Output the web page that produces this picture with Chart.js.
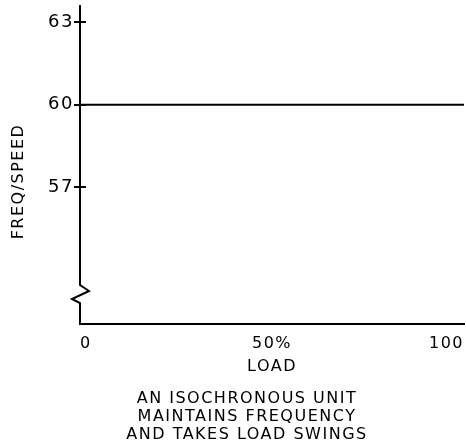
<!DOCTYPE html>
<html>
<head>
<meta charset="utf-8">
<script src="https://cdn.jsdelivr.net/npm/chart.js@4.4.1/dist/chart.umd.min.js"></script>
<style>
  html, body { margin: 0; padding: 0; background: #fff; }
  #wrap { width: 466px; height: 444px; }
</style>
</head>
<body>
<div id="wrap"><canvas id="isoChart"></canvas></div>
<script>
// data
const loadPct = [0, 100];
const freqSpeed = [60, 60];
const yTickValues = [57, 60, 63];
const xTickValues = [0, 50, 100];
const xTickLabels = ['0', '50%', '100'];
const yAxisTitle = 'FREQ/SPEED';
const xAxisTitle = 'LOAD';
const caption = ['AN ISOCHRONOUS UNIT', 'MAINTAINS FREQUENCY', 'AND TAKES LOAD SWINGS'];

const FONT = 'DejaVu Sans';
const INK = '#000';
const SPACING = '1.5px';

// wider lettering like the drafting font of the original
const lettering = {
    id: 'lettering',
    beforeUpdate(chart) { chart.ctx.letterSpacing = SPACING; },
    beforeDraw(chart) { chart.ctx.letterSpacing = SPACING; },
    afterLayout(chart) {
        // caption sits a bit left of the plot centre
        if (chart.titleBlock) chart.titleBlock.left = chart.chartArea.left - 50;
    }
};

// short marks on the inside of the y axis + the break symbol near the bottom
const axisExtras = {
    id: 'axisExtras',
    afterDraw(chart) {
        const ctx = chart.ctx;
        const y = chart.scales.y;
        const ax = chart.chartArea.left;
        const bottom = chart.chartArea.bottom;
        ctx.save();
        ctx.strokeStyle = INK;
        ctx.lineWidth = 2;
        yTickValues.forEach(function (v) {
            const py = Math.round(y.getPixelForValue(v));
            ctx.beginPath();
            ctx.moveTo(ax, py);
            ctx.lineTo(ax + 6, py);
            ctx.stroke();
        });
        // break in the axis
        ctx.fillStyle = '#fff';
        ctx.fillRect(ax - 3, bottom - 40, 6, 22);
        ctx.beginPath();
        ctx.moveTo(ax, bottom - 41);
        ctx.lineTo(ax, bottom - 39);
        ctx.lineTo(ax + 9, bottom - 33);
        ctx.lineTo(ax - 8, bottom - 25);
        ctx.lineTo(ax, bottom - 21);
        ctx.lineTo(ax, bottom - 17);
        ctx.stroke();
        ctx.restore();
    }
};

const ctx = document.getElementById('isoChart').getContext('2d');

new Chart(ctx, {
    type: 'line',
    data: {
        datasets: [{
            data: loadPct.map(function (x, i) { return { x: x, y: freqSpeed[i] }; }),
            borderColor: INK,
            borderWidth: 2,
            pointRadius: 0,
            fill: false
        }]
    },
    options: {
        responsive: true,
        maintainAspectRatio: false,
        animation: false,
        layout: { padding: { top: 6, right: 2, left: 0, bottom: 0 } },
        scales: {
            x: {
                type: 'linear',
                min: 0,
                max: 100,
                afterBuildTicks: function (scale) {
                    scale.ticks = xTickValues.map(function (v) { return { value: v }; });
                },
                afterFit: function (scale) {
                    scale.height = 66;
                    scale.paddingLeft = 0;
                    scale.paddingRight = 0;
                },
                grid: { display: false, drawTicks: false },
                border: { display: true, color: INK, width: 2 },
                ticks: {
                    align: 'inner',
                    padding: 10,
                    color: INK,
                    font: { family: FONT, size: 16 },
                    callback: function (value) {
                        return xTickLabels[xTickValues.indexOf(value)];
                    }
                },
                title: {
                    display: true,
                    text: xAxisTitle,
                    color: INK,
                    font: { family: FONT, size: 16 },
                    padding: { top: 0, bottom: 14 }
                }
            },
            y: {
                min: 52,
                max: 63.6,
                afterBuildTicks: function (scale) {
                    scale.ticks = yTickValues.map(function (v) { return { value: v }; });
                },
                afterFit: function (scale) {
                    scale.width = 80;
                    scale.paddingTop = 0;
                    scale.paddingBottom = 0;
                },
                grid: { drawOnChartArea: false, drawTicks: true, tickLength: 6, color: INK, lineWidth: 2 },
                border: { display: true, color: INK, width: 2 },
                ticks: {
                    padding: 0,
                    color: INK,
                    font: { family: FONT, size: 18 }
                },
                title: {
                    display: true,
                    // trailing spaces push the label down, as in the original
                    text: yAxisTitle + '     ',
                    color: INK,
                    font: { family: FONT, size: 16 },
                    padding: { top: 9, bottom: 0 }
                }
            }
        },
        plugins: {
            legend: { display: false },
            tooltip: { enabled: false },
            title: {
                display: true,
                position: 'bottom',
                fullSize: false,
                text: caption,
                color: INK,
                font: { family: FONT, size: 16, weight: 'normal', lineHeight: '18px' },
                padding: { top: 0, bottom: 0 }
            }
        }
    },
    plugins: [lettering, axisExtras]
});
</script>
</body>
</html>
